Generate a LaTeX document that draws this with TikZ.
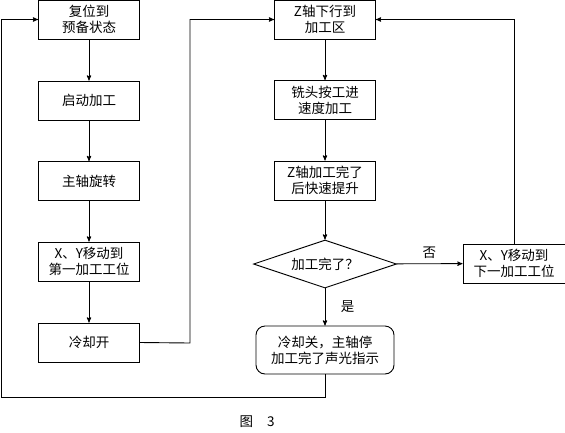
\documentclass[tikz,border=0pt]{standalone}
\usepackage{fontspec}
\newfontfamily\cjk{Noto Sans CJK SC}
\usepackage{tikz}
\usetikzlibrary{arrows}
\usetikzlibrary{shapes.geometric}

\begin{document}
\begin{tikzpicture}[x=1pt, y=-1pt, line width=0.9pt, >=stealth']
  \tikzstyle{box}=[draw, rectangle, inner sep=0pt, minimum width=101pt, minimum height=39pt, align=center, font=\cjk\fontsize{13.5}{16}\selectfont]
  \tikzstyle{txt}=[font=\cjk\fontsize{13.5}{16}\selectfont]
\useasboundingbox (0,0) rectangle (565,432);
% left column
\node[box] (reset) at (89,19.5) {复位到\\预备状态};
\node[box] (start) at (89,100.5) {启动加工};
\node[box] (spin) at (89,181) {主轴旋转};
\node[box] (movexy) at (89,261.5) {X、Y移动到\\第一加工工位};
\node[box] (coolon) at (89,342.5) {冷却开};
% middle column
\node[box] (zdown) at (325,19.5) {Z轴下行到\\加工区};
\node[box] (mill) at (325,100) {铣头按工进\\速度加工};
\node[box] (zup) at (325,180.5) {Z轴加工完了\\后快速提升};
\node[box, diamond, aspect=3, minimum width=143pt, minimum height=48pt] (check) at (325,264) {加工完了？};
\node[box, minimum width=102pt] (nextxy) at (514,263.5) {X、Y移动到\\下一加工工位};
\node[box, rounded corners=9pt, minimum width=138pt, minimum height=48pt] (stop) at (325,350) {冷却关，主轴停\\加工完了声光指示};
\node[txt] (caption) at (257,422) {图\hspace{14pt}3};
\coordinate (loopL) at (1,397);
\coordinate (loopM) at (190,343);
\foreach \a/\b in {reset/start, start/spin, spin/movexy, movexy/coolon, zdown/mill, mill/zup, zup/check}
    \draw[->] (\a) -- (\b);
\draw[->] (check) -- node[txt, above=1pt] {否} (nextxy);
\draw[->] (check) -- node[txt, right=12pt] {是} (stop);
\draw[->] (nextxy.north) |- (zdown.east);
\draw[->] (coolon.east) -- (loopM) |- (zdown.west);
\draw[->] (stop.south) |- (loopL) |- (reset.west);
   \end{tikzpicture}
\end{document}
